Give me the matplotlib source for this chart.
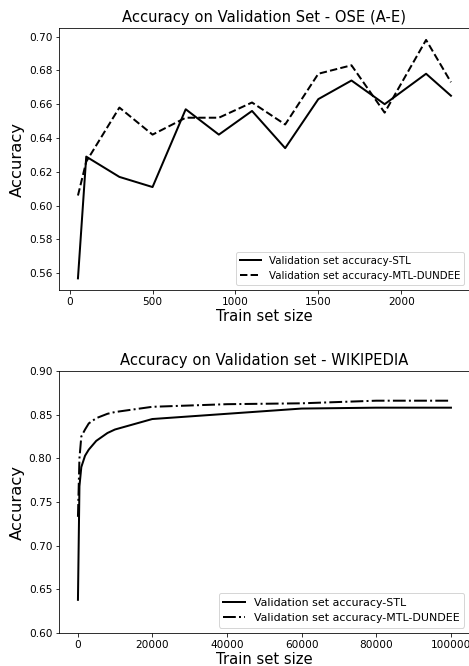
import matplotlib
matplotlib.use("Agg")
import matplotlib.pyplot as plt

# Top chart: OSE (A-E)
ose_sizes = [50, 100, 300, 500, 700, 900, 1100, 1300, 1500, 1700, 1900, 2150, 2300]
ose_stl = [0.557, 0.629, 0.617, 0.611, 0.657, 0.642, 0.656, 0.634, 0.663, 0.674, 0.660, 0.678, 0.665]
ose_mtl = [0.606, 0.626, 0.658, 0.642, 0.652, 0.652, 0.661, 0.648, 0.678, 0.683, 0.655, 0.698, 0.673]

# Bottom chart: WIKIPEDIA
wiki_sizes = [100, 500, 1000, 2000, 3000, 5000, 8000, 10000, 20000, 40000, 60000, 80000, 100000]
wiki_stl = [0.638, 0.768, 0.790, 0.803, 0.810, 0.820, 0.829, 0.833, 0.845, 0.851, 0.857, 0.858, 0.858]
wiki_mtl = [0.733, 0.800, 0.825, 0.833, 0.840, 0.846, 0.851, 0.853, 0.859, 0.862, 0.863, 0.866, 0.866]

label_stl = "Validation set accuracy-STL"
label_mtl = "Validation set accuracy-MTL-DUNDEE"

DPI = 72
fig = plt.figure(figsize=(469 / DPI, 666 / DPI), dpi=DPI)

W, H = 469, 666
ax1 = fig.add_axes([59.3 / W, 1 - 290.3 / H, (469.6 - 59.3) / W, (290.3 - 28) / H])
ax2 = fig.add_axes([59.3 / W, 1 - 633 / H, (469.6 - 59.3) / W, (633 - 371) / H])

ax1.plot(ose_sizes, ose_stl, color="black", lw=2, ls="-", label=label_stl)
ax1.plot(ose_sizes, ose_mtl, color="black", lw=2, ls="--", label=label_mtl)
ax1.set_title("Accuracy on Validation Set - OSE (A-E)", fontsize=14.7)
ax1.set_xlabel("Train set size", fontsize=14.8)
ax1.set_ylabel("Accuracy", fontsize=16.4)
ax1.set_yticks([0.56, 0.58, 0.60, 0.62, 0.64, 0.66, 0.68, 0.70])
ax1.legend(loc="lower right", fontsize=10.3)

ax2.plot(wiki_sizes, wiki_stl, color="black", lw=2, ls="-", label=label_stl)
ax2.plot(wiki_sizes, wiki_mtl, color="black", lw=2, ls="-.", label=label_mtl)
ax2.set_title("Accuracy on Validation set - WIKIPEDIA", fontsize=14.7)
ax2.set_xlabel("Train set size", fontsize=14.8)
ax2.set_ylabel("Accuracy", fontsize=16.4)
ax2.set_ylim(0.60, 0.90)
ax2.set_xticks([0, 20000, 40000, 60000, 80000, 100000])
ax2.legend(loc="lower right", fontsize=11)

for ax in (ax1, ax2):
    ax.tick_params(labelsize=10.5)
    ax.xaxis.labelpad = 2

fig.savefig("out.png", dpi=DPI)
